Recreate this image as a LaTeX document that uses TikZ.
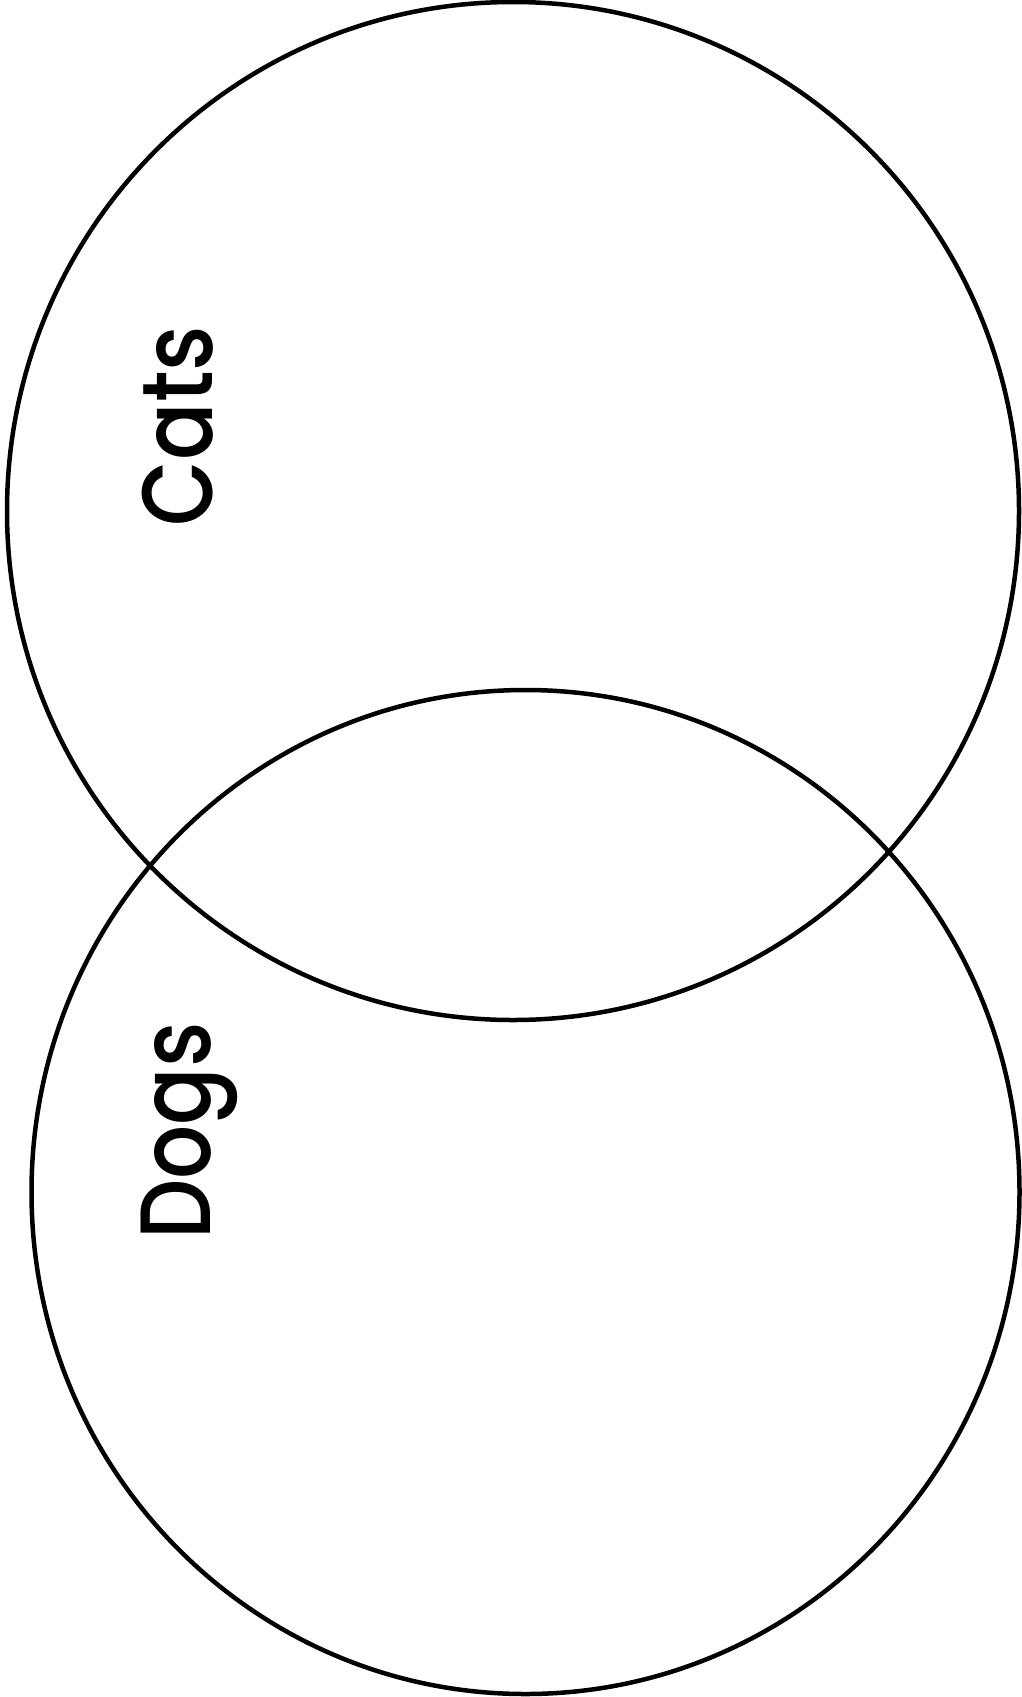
\documentclass[tikz,border=0pt]{standalone}
\usepackage{fontspec}
\setmainfont{Poppins Medium}
\tikzset{
    vennset/.style={draw=black, line width=4.5pt},
    setlabel/.style={rotate=90, xscale=0.85, anchor=base, inner sep=0pt, font=\fontsize{100}{120}\selectfont}
}
\begin{document}
\begin{tikzpicture}[x=1pt, y=-1pt]
    \useasboundingbox (0,0) rectangle (1022,1697);

    % Top set (Cats)
    \draw[vennset] (513,511) ellipse [x radius=506, y radius=509];
    \node[setlabel] (cats) at (212,426) {Cats};

    % Bottom set (Dogs)
    \draw[vennset] (525.5,1192) ellipse [x radius=494, y radius=502];
    \node[setlabel] (dogs) at (210,1131) {Dogs};
\end{tikzpicture}
\end{document}
